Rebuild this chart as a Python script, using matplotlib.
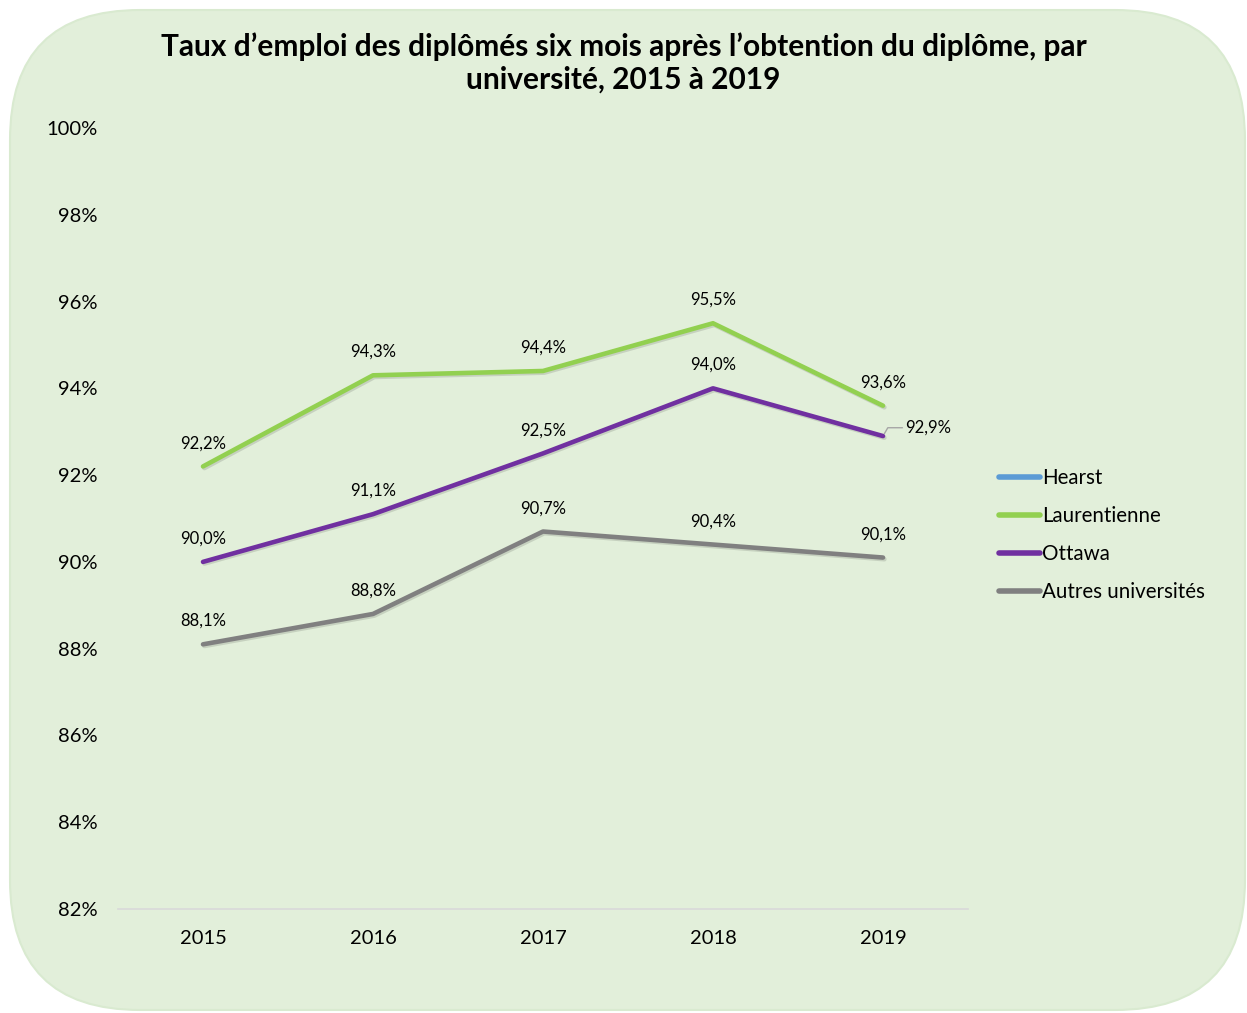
import matplotlib.pyplot as plt
from matplotlib.patches import FancyBboxPatch
from matplotlib.lines import Line2D
import matplotlib.patheffects as pe

plt.rcParams['font.family'] = ['Lato', 'DejaVu Sans']

years = ['2015', '2016', '2017', '2018', '2019']
series_names = ['Hearst', 'Laurentienne', 'Ottawa', 'Autres universités']
laurentienne = [92.2, 94.3, 94.4, 95.5, 93.6]
ottawa = [90.0, 91.1, 92.5, 94.0, 92.9]
autres = [88.1, 88.8, 90.7, 90.4, 90.1]
colors = ['#5B9BD5', '#92D050', '#7030A0', '#808080']

fig = plt.figure(figsize=(12.47, 10.13), dpi=100)

# rounded green background
bg = FancyBboxPatch((0.1 + 1.3, 0.03 + 1.3), 12.35 - 2.6, 10.0 - 2.6,
                    boxstyle='round,pad=1.3', transform=fig.dpi_scale_trans,
                    facecolor='#E2EFDA', edgecolor='#D9EAD0', linewidth=1.5, zorder=-10)
fig.patches.append(bg)

ax = fig.add_axes([118 / 1247, 1 - 909 / 1013, 850 / 1247, 781 / 1013])
ax.set_facecolor('none')

x = list(range(len(years)))
shadow = [pe.SimpleLineShadow(offset=(1, -1.2), alpha=0.12), pe.Normal()]
ax.plot(x, laurentienne, color=colors[1], lw=3.3, solid_capstyle='round', path_effects=shadow, zorder=3)
ax.plot(x, ottawa, color=colors[2], lw=3.3, solid_capstyle='round', path_effects=shadow, zorder=3)
ax.plot(x, autres, color=colors[3], lw=3.3, solid_capstyle='round', path_effects=shadow, zorder=3)

def lab(v):
    return f'{v:.1f}%'.replace('.', ',')

for vals in (laurentienne, ottawa, autres):
    for i, v in enumerate(vals):
        if vals is ottawa and i == 4:
            ax.annotate(lab(v), (i, v), xytext=(16, 6), textcoords='offset points',
                        fontsize=12, ha='left', va='center',
                        arrowprops=dict(arrowstyle='-', color='#A6A6A6', lw=1,
                                        connectionstyle='angle,angleA=0,angleB=60,rad=0',
                                        shrinkA=0, shrinkB=2))
        else:
            ax.annotate(lab(v), (i, v), xytext=(0, 11), textcoords='offset points',
                        fontsize=12, ha='center', va='bottom')

ax.set_xlim(-0.5, 4.5)
ax.set_ylim(82, 100)
ax.set_yticks(range(82, 101, 2))
ax.set_yticklabels([f'{t}%' for t in range(82, 101, 2)], fontsize=14.5)
ax.set_xticks(x)
ax.set_xticklabels(years, fontsize=14.5)
ax.tick_params(length=0)
ax.tick_params(axis='x', pad=15)
ax.tick_params(axis='y', pad=15)
for s in ['top', 'right', 'left']:
    ax.spines[s].set_visible(False)
ax.spines['bottom'].set_color('#D9D9D9')
ax.spines['bottom'].set_linewidth(1.2)

fig.text(0.5, 0.968, 'Taux d’emploi des diplômés six mois après l’obtention du diplôme, par\nuniversité, 2015 à 2019',
         ha='center', va='top', fontsize=21.5, fontweight='bold', linespacing=1.2)

handles = [Line2D([], [], color=c, lw=4, solid_capstyle='round') for c in colors]
fig.legend(handles, series_names, loc='upper left', bbox_to_anchor=(991 / 1247, 1 - 460 / 1013),
           frameon=False, fontsize=14.8, handlelength=2.0, handletextpad=0.1, labelspacing=0.88,
           borderaxespad=0)

fig.savefig('out.png', dpi=100, facecolor='white')
